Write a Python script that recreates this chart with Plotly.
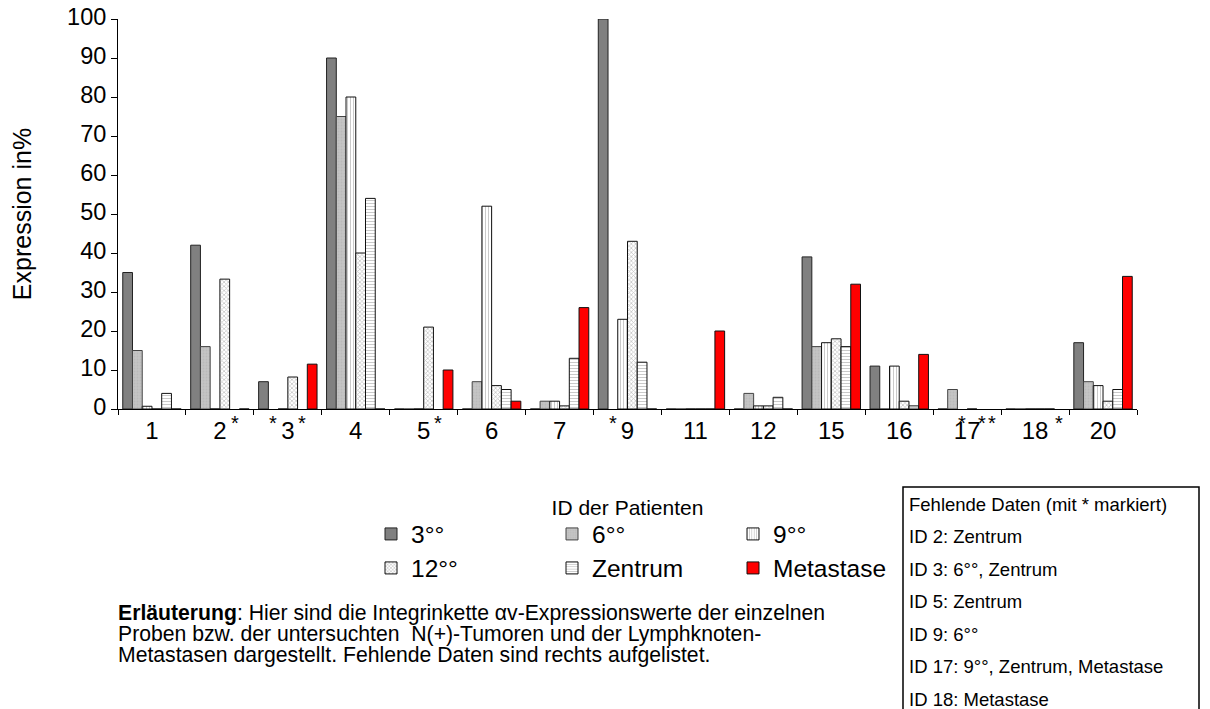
import plotly.graph_objects as go

# ---------------- data ----------------
patient_ids = ["1", "2", "3", "4", "5", "6", "7", "9", "11", "12", "15", "16", "17", "18", "20"]
series_names = ["3°°", "6°°", "9°°", "12°°", "Zentrum", "Metastase"]

# None = missing data (marked with *)
v_3 = [35, 42, 7, 90, 0, 0, 0, 100, 0, 0, 39, 11, 0, 0, 17]
v_6 = [15, 16, None, 75, 0, 7, 2, None, 0, 4, 16, 0, 5, 0, 7]
v_9 = [0.7, 0, 0, 80, 0, 52, 2, 23, 0, 0.8, 17, 11, None, 0, 6]
v_12 = [0, 33.3, 8.2, 40, 21, 6, 0.8, 43, 0, 0.8, 18, 2, 0, 0, 2]
v_zentrum = [4, None, None, 54, None, 5, 13, 12, 0, 3, 16, 0.8, None, 0, 5]
v_metastase = [0, 0, 11.5, 0, 10, 2, 26, 0, 20, 0, 32, 14, None, None, 34]

y_ticks = [0, 10, 20, 30, 40, 50, 60, 70, 80, 90, 100]

missing_lines = [
    "Fehlende Daten (mit * markiert)",
    "ID 2: Zentrum",
    "ID 3: 6°°, Zentrum",
    "ID 5: Zentrum",
    "ID 9: 6°°",
    "ID 17: 9°°, Zentrum, Metastase",
    "ID 18: Metastase",
]
note_lines = [
    "<b>Erläuterung</b>: Hier sind die Integrinkette αv-Expressionswerte der einzelnen",
    "Proben bzw. der untersuchten \u00a0N(+)-Tumoren und der Lymphknoten-",
    "Metastasen dargestellt. Fehlende Daten sind rechts aufgelistet.",
]

all_values = [v_3, v_6, v_9, v_12, v_zentrum, v_metastase]

# ---------------- layout helpers ----------------
PAGE_W, PAGE_H = 1210, 709
OFF = 8  # default body margin of the html page
L, R, T, B = 118, 1137, 19, 409  # plot area in page pixels
FONT = "Liberation Sans, Arial, sans-serif"


def px_x(px):
    return (px - L) / (R - L)


def px_y(py):
    return (B - py) / (B - T)


styles = [
    dict(color="#808080", line=dict(color="#222222", width=1)),
    dict(color="#c4c4c4", line=dict(color="#444444", width=1),
         pattern=dict(shape=".", fgcolor="#b0b0b0", bgcolor="#c4c4c4", size=3, solidity=0.3)),
    dict(color="white", line=dict(color="#111111", width=1),
         pattern=dict(shape="|", fgcolor="#8a8a8a", bgcolor="white", size=3, solidity=0.3)),
    dict(color="white", line=dict(color="#111111", width=1),
         pattern=dict(shape="x", fgcolor="#8a8a8a", bgcolor="white", size=3, solidity=0.45)),
    dict(color="white", line=dict(color="#111111", width=1),
         pattern=dict(shape="-", fgcolor="#8a8a8a", bgcolor="white", size=3, solidity=0.3)),
    dict(color="#ff0000", line=dict(color="#111111", width=1)),
]

fig = go.Figure()
for i, (name, vals) in enumerate(zip(series_names, all_values)):
    fig.add_trace(go.Bar(
        x=patient_ids,
        y=vals,
        name=name,
        marker=styles[i],
        legend="legend" if i < 3 else "legend2",
    ))

BARGAP = 0.14
n_series = len(series_names)
bar_w = (1 - BARGAP) / n_series

annotations = []
# asterisks under missing bars
for k, vals in enumerate(all_values):
    for gi, v in enumerate(vals):
        if v is None:
            annotations.append(dict(
                x=gi + (k - (n_series - 1) / 2) * bar_w, y=0,
                xref="x", yref="y", text="*", showarrow=False,
                xanchor="center", yanchor="top", yshift=-1,
                font=dict(family=FONT, size=20, color="black"),
            ))

# missing-data box text
for i, line in enumerate(missing_lines):
    annotations.append(dict(
        x=px_x(907), y=px_y(504 + 32.5 * i), xref="paper", yref="paper",
        text=line, showarrow=False, xanchor="left", yanchor="middle",
        font=dict(family=FONT, size=18.5, color="black"),
    ))

# explanation text
for i, line in enumerate(note_lines):
    annotations.append(dict(
        x=px_x(116), y=px_y(613 + 21 * i), xref="paper", yref="paper",
        text=line, showarrow=False, xanchor="left", yanchor="middle",
        font=dict(family=FONT, size=21.2, color="black"),
    ))

shapes = [dict(
    type="rect", xref="paper", yref="paper",
    x0=px_x(903), x1=px_x(1199), y0=px_y(487), y1=px_y(730),
    line=dict(color="black", width=1.5), fillcolor="rgba(0,0,0,0)",
)]

legend_common = dict(
    orientation="h", xref="paper", yref="paper",
    xanchor="left", yanchor="middle",
    font=dict(family=FONT, size=24.5, color="black"),
    bgcolor="rgba(0,0,0,0)", borderwidth=0,
    entrywidth=136, entrywidthmode="pixels",
    itemclick=False, itemdoubleclick=False,
)

fig.update_layout(
    width=PAGE_W - OFF, height=PAGE_H - OFF,
    margin=dict(l=L - OFF, r=PAGE_W - R, t=T - OFF, b=PAGE_H - B, pad=0, autoexpand=False),
    paper_bgcolor="white", plot_bgcolor="white",
    barmode="group", bargap=BARGAP, bargroupgap=0,
    font=dict(family=FONT, color="black"),
    showlegend=True,
    legend=dict(x=px_x(371), y=px_y(534), **legend_common),
    legend2=dict(x=px_x(371), y=px_y(568), **legend_common),
    annotations=annotations,
    shapes=shapes,
    xaxis=dict(
        type="category", categoryorder="array", categoryarray=patient_ids,
        tickson="boundaries", ticks="outside", ticklen=5, tickwidth=1, tickcolor="black",
        showline=True, linecolor="black", linewidth=1,
        showgrid=False, zeroline=False, automargin=False,
        ticklabeloverflow="allow",
        tickfont=dict(family=FONT, size=24, color="black"),
        title=dict(text="ID der Patienten", font=dict(family=FONT, size=21, color="black"), standoff=57),
    ),
    yaxis=dict(
        range=[0, 100], tickmode="array", tickvals=y_ticks,
        ticks="outside", ticklen=6, tickwidth=1, tickcolor="black",
        showline=True, linecolor="black", linewidth=1,
        showgrid=False, zeroline=False, automargin=False,
        ticklabeloverflow="allow", ticklabelshift=-2,
        tickfont=dict(family=FONT, size=23.5, color="black"),
        title=dict(text="Expression in%", font=dict(family=FONT, size=25, color="black"), standoff=38),
    ),
)

fig.write_html("out.html")
